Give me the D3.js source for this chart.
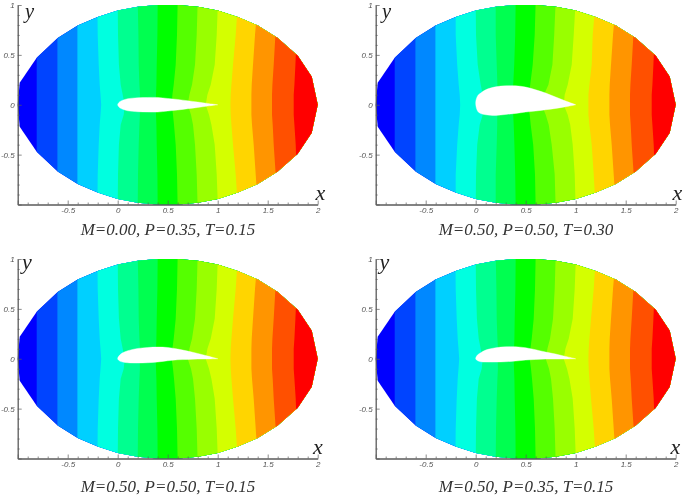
<!DOCTYPE html>
<html><head><meta charset="utf-8">
<script src="https://cdn.jsdelivr.net/npm/d3@7/dist/d3.min.js"></script>
<style>
html,body{margin:0;padding:0;background:#fff}
svg{display:block;filter:blur(0.5px)}
</style></head><body>
<svg id="c" width="685" height="496"></svg>
<script>
// ---- data ----
const titles = ["M=0.00, P=0.35, T=0.15","M=0.50, P=0.50, T=0.30","M=0.50, P=0.50, T=0.15","M=0.50, P=0.35, T=0.15"];
const xMajor = [-1,-0.5,0,0.5,1,1.5,2];
const yMajor = [-1,-0.5,0,0.5,1];
const xMinor = [-0.9,-0.8,-0.7,-0.6,-0.4,-0.3,-0.2,-0.1,0.1,0.2,0.3,0.4,0.6,0.7,0.8,0.9,1.1,1.2,1.3,1.4,1.6,1.7,1.8,1.9];
const yMinor = [-0.9,-0.8,-0.7,-0.6,-0.4,-0.3,-0.2,-0.1,0.1,0.2,0.3,0.4,0.6,0.7,0.8,0.9];
const bandColors = ["#0000ff","#0044ff","#0088ff","#00d0ff","#00ffe0","#00ff90","#00ff50","#00ff00","#55ff00","#99ff00","#d4ff00","#ffd500","#ff9500","#ff5000","#ff0000"];

const outerX = [-1,-0.98,-0.81,-0.6,-0.4,-0.2,0,0.2,0.4,0.6,0.8,1,1.2,1.4,1.6,1.8,1.94,2];
const outerTop = [0,0.22,0.47,0.67,0.795,0.88,0.945,0.983,1,1,0.983,0.945,0.88,0.795,0.67,0.49,0.28,0];

const levels = [1.05,0.7,0.4,0.2,0.1,0,-0.1,-0.2,-0.4,-0.7,-1.05];
const contoursThin = [
 [-0.81,-0.81,-0.81,-0.81,-0.81,-0.81,-0.81,-0.81,-0.81,-0.81,-0.81],
 [-0.603,-0.603,-0.603,-0.603,-0.603,-0.603,-0.603,-0.603,-0.603,-0.603,-0.603],
 [-0.403,-0.403,-0.403,-0.403,-0.403,-0.403,-0.403,-0.403,-0.403,-0.403,-0.403],
 [-0.203,-0.2,-0.19,-0.18,-0.172,-0.165,-0.172,-0.18,-0.19,-0.2,-0.203],
 [0,0.003,0.012,0.03,0.05,0.07,0.06,0.03,0.012,0.003,0],
 [0.2,0.207,0.21,0.217,0.223,0.22,0.222,0.217,0.21,0.203,0.2],
 [0.4,0.397,0.39,0.387,0.383,0.38,0.383,0.387,0.39,0.397,0.4],
 [0.6,0.593,0.58,0.56,0.547,0.54,0.553,0.563,0.58,0.593,0.6],
 [0.8,0.79,0.773,0.743,0.717,0.7,0.733,0.753,0.773,0.79,0.8],
 [1.003,0.99,0.97,0.93,0.897,0.88,0.913,0.937,0.97,0.99,1.003],
 [1.203,1.18,1.153,1.137,1.13,1.127,1.13,1.137,1.153,1.18,1.203],
 [1.403,1.373,1.353,1.34,1.337,1.337,1.337,1.343,1.36,1.38,1.403],
 [1.603,1.577,1.56,1.547,1.543,1.543,1.543,1.55,1.56,1.58,1.603],
 [1.803,1.79,1.777,1.767,1.76,1.76,1.76,1.767,1.78,1.79,1.803]
];
const contoursThick = [
 contoursThin[0], contoursThin[1], contoursThin[2],
 [-0.2,-0.2,-0.185,-0.17,-0.16,-0.155,-0.16,-0.17,-0.185,-0.2,-0.2],
 [0,0.003,0.02,0.05,0.07,0.08,0.07,0.04,0.015,0.003,0],
 [0.2,0.2,0.21,0.217,0.22,0.22,0.215,0.215,0.21,0.2,0.2],
 [0.4,0.395,0.385,0.375,0.37,0.37,0.375,0.38,0.387,0.395,0.4],
 [0.6,0.59,0.57,0.545,0.53,0.52,0.54,0.55,0.575,0.593,0.6],
 [0.8,0.785,0.767,0.727,0.683,0.66,0.7,0.73,0.76,0.79,0.8],
 [1,0.98,0.96,0.92,0.89,0.88,0.92,0.945,0.97,0.99,1],
 [1.2,1.17,1.16,1.137,1.127,1.127,1.127,1.137,1.16,1.18,1.2],
 contoursThin[11], contoursThin[12], contoursThin[13]
];

const foilX = [1,0.9,0.8,0.7,0.6,0.5,0.4,0.3,0.2,0.1,0.05,0.02,0,0.02,0.05,0.1,0.2,0.3,0.4,0.5,0.6,0.7,0.8,0.9,1];
const foilA = [0,0.013,0.027,0.04,0.053,0.063,0.073,0.073,0.07,0.06,0.045,0.03,0,-0.03,-0.045,-0.06,-0.07,-0.073,-0.073,-0.063,-0.053,-0.04,-0.027,-0.013,0];
const foilB = [0,0.037,0.077,0.117,0.15,0.177,0.19,0.19,0.18,0.15,0.117,0.09,0.02,-0.065,-0.088,-0.1,-0.107,-0.097,-0.087,-0.073,-0.063,-0.05,-0.037,-0.02,0];
const foilC = [0,0.027,0.053,0.077,0.097,0.113,0.117,0.113,0.103,0.08,0.06,0.037,0,-0.023,-0.033,-0.04,-0.043,-0.04,-0.033,-0.02,-0.01,-0.007,-0.003,-0.002,0];
const foilD = [0,0.023,0.047,0.067,0.09,0.11,0.12,0.12,0.11,0.087,0.06,0.04,0,-0.02,-0.03,-0.033,-0.033,-0.03,-0.023,-0.013,-0.007,-0.003,-0.003,-0.002,0];

// ---- layout ----
const panels = [
 {left:17.7, top:5,   foil:foilA, contours:contoursThin,  tx:168, ty:235, lx:320.5, ly:200, yx:29.5, yy:18.2, ys:20.5},
 {left:375.7,top:5,   foil:foilB, contours:contoursThick, tx:526, ty:235, lx:677.5, ly:200, yx:386.5,yy:18.2, ys:20.5},
 {left:17.7, top:259, foil:foilC, contours:contoursThin,  tx:168, ty:492, lx:318,   ly:453.7,yx:27,  yy:269, ys:22},
 {left:375.7,top:259, foil:foilD, contours:contoursThin,  tx:526, ty:492, lx:675.5, ly:453.7,yx:384.5,yy:269, ys:22}
];
const AXIS = "#5a5a5a";
const svg = d3.select("#c");
const defs = svg.append("defs");

panels.forEach((p,pi)=>{
  const x = d3.scaleLinear().domain([-1,2]).range([p.left,p.left+300]);
  const y = d3.scaleLinear().domain([-1,1]).range([p.top+199.5,p.top]);
  const g = svg.append("g");
  const line = d3.line().x(d=>x(d[0])).y(d=>y(d[1]));

  // outer polygon used as clip
  const outer = outerX.map((v,i)=>[v,outerTop[i]])
    .concat(outerX.slice(1,-1).reverse().map((v,i,a)=>[v,-outerTop[outerTop.length-2-i]]));
  defs.append("clipPath").attr("id","clip"+pi).append("path").attr("d",line(outer)+"Z");

  const contourPts = c=>c.map((v,i)=>[v,levels[i]]);
  const leftEdge = levels.map(l=>[-1.3,l]);
  const rightEdge = levels.map(l=>[2.3,l]);
  const cs = [leftEdge].concat(p.contours.map(contourPts),[rightEdge]);
  const bands = g.append("g").attr("clip-path",`url(#clip${pi})`);
  bandColors.forEach((col,i)=>{
    // each band paints from its left contour to the far right, so no seams show
    const poly = cs[i].concat(rightEdge.slice().reverse());
    bands.append("path").attr("d",line(poly)+"Z").attr("fill",col);
  });

  // airfoil hole
  const foilPts = foilX.map((v,i)=>[v,p.foil[i]]);
  g.append("path").attr("d",d3.line().x(d=>x(d[0])).y(d=>y(d[1])).curve(d3.curveCatmullRom)(foilPts))
    .attr("fill","#fff").attr("stroke","#fff").attr("stroke-width",0.4);

  // axes
  const bottom = y(-1), left = x(-1);
  const fmt = v=> (v===-1)?"":String(v);
  const style = s=>{
    s.selectAll("path").attr("stroke",AXIS).attr("stroke-width",1.3);
    s.selectAll("line").attr("stroke",AXIS).attr("stroke-width",0.7);
    s.selectAll("text").attr("fill","#555").attr("font-family","'Liberation Sans',Arial,sans-serif")
      .attr("font-style","italic").attr("font-size",8);
  };
  g.append("g").attr("transform",`translate(0,${bottom})`)
    .call(d3.axisBottom(x).tickValues(xMinor).tickSize(-2).tickSizeOuter(0).tickFormat(""))
    .call(s=>{s.select("path").remove();style(s);});
  g.append("g").attr("transform",`translate(${left},0)`)
    .call(d3.axisLeft(y).tickValues(yMinor).tickSize(-2).tickSizeOuter(0).tickFormat(""))
    .call(s=>{s.select("path").remove();style(s);});
  g.append("g").attr("transform",`translate(0,${bottom})`)
    .call(d3.axisBottom(x).tickValues(xMajor).tickSize(-4).tickSizeOuter(0).tickPadding(3).tickFormat(fmt))
    .call(style);
  g.append("g").attr("transform",`translate(${left},0)`)
    .call(d3.axisLeft(y).tickValues(yMajor).tickSize(-4).tickSizeOuter(0).tickPadding(3).tickFormat(fmt))
    .call(style);

  const serif = "'Liberation Serif','Times New Roman',serif";
  g.append("text").attr("x",p.lx).attr("y",p.ly).attr("text-anchor","middle")
    .attr("font-family",serif).attr("font-style","italic").attr("font-size",22).attr("fill","#222").text("x");
  g.append("text").attr("x",p.yx).attr("y",p.yy).attr("text-anchor","middle")
    .attr("font-family",serif).attr("font-style","italic").attr("font-size",p.ys).attr("fill","#222").text("y");
  g.append("text").attr("x",p.tx).attr("y",p.ty).attr("text-anchor","middle")
    .attr("font-family",serif).attr("font-style","italic").attr("font-size",17).attr("fill","#333").text(titles[pi]);
});
</script>
</body></html>
